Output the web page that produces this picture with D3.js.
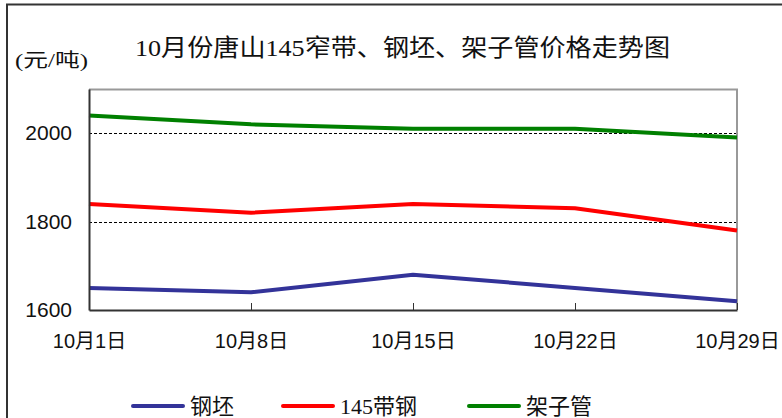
<!DOCTYPE html>
<html>
<head>
<meta charset="utf-8">
<script src="https://cdn.jsdelivr.net/npm/d3@7"></script>
<style>
  body { margin: 0; background: #fff; }
  svg { display: block; }
</style>
</head>
<body>
<div class="vis-linechart"></div>
<script>
// data
const dates = ["10月1日", "10月8日", "10月15日", "10月22日", "10月29日"];
const billet = [1650, 1640, 1680, 1650, 1620];      // 钢坯
const strip = [1840, 1820, 1840, 1830, 1780];       // 145带钢
const scaffold = [2040, 2020, 2010, 2010, 1990];    // 架子管
const yTicks = [1600, 1800, 2000];
const gridTicks = [1800, 2000];

const series = [
  { name: "钢坯", values: billet, color: "#333399" },
  { name: "145带钢", values: strip, color: "#ff0000" },
  { name: "架子管", values: scaffold, color: "#008000" }
];

const chartWidth = 782;
const chartHeight = 418;
const margin = { top: 89, right: 45, bottom: 108, left: 89 };
const width = chartWidth - margin.left - margin.right;
const height = chartHeight - margin.top - margin.bottom;

const cjkSerif = "'Liberation Serif', 'Noto Sans CJK SC', serif";
const cjkSans = "'Liberation Sans', Arial, 'Noto Sans CJK SC', sans-serif";

const root = d3.select(".vis-linechart").append("svg")
  .attr("width", chartWidth)
  .attr("height", chartHeight);

// outer frame (only top and left edges are visible)
root.append("path")
  .attr("d", "M7,420 L7,4.5 L790,4.5")
  .attr("fill", "none")
  .attr("stroke", "#333")
  .attr("stroke-width", 2);

// title
root.append("text")
  .attr("x", 135)
  .attr("y", 56)
  .attr("textLength", 535)
  .attr("lengthAdjust", "spacingAndGlyphs")
  .style("font-family", cjkSerif)
  .style("font-size", "24px")
  .attr("fill", "#111")
  .text("10月份唐山145窄带、钢坯、架子管价格走势图");

// unit
root.append("text")
  .attr("x", 15)
  .attr("y", 67)
  .attr("textLength", 73)
  .attr("lengthAdjust", "spacingAndGlyphs")
  .style("font-family", cjkSerif)
  .style("font-size", "19px")
  .attr("fill", "#111")
  .text("(元/吨)");

const svg = root.append("g")
  .attr("transform", "translate(" + margin.left + "," + margin.top + ")");

let x = d3.scalePoint()
  .domain(dates)
  .range([0, width]);
let y = d3.scaleLinear()
  .domain([1600, 2100])
  .range([height, 0]);

// dashed gridlines
svg.selectAll(".grid")
  .data(gridTicks)
  .enter().append("line")
  .attr("x1", 0)
  .attr("x2", width)
  .attr("y1", function(d) { return Math.round(y(d)) + 0.5; })
  .attr("y2", function(d) { return Math.round(y(d)) + 0.5; })
  .attr("stroke", "#000")
  .attr("stroke-width", 1)
  .attr("stroke-dasharray", "3,2");

// top + right border of plot area
svg.append("path")
  .attr("d", "M0,0.5 L" + width + ",0.5 L" + width + "," + height)
  .attr("fill", "none")
  .attr("stroke", "#999")
  .attr("stroke-width", 2);

// lines
const line = d3.line()
  .x(function(d, i) { return x(dates[i]); })
  .y(function(d) { return y(d); });

svg.selectAll(".series")
  .data(series)
  .enter().append("path")
  .attr("d", function(d) { return line(d.values); })
  .attr("fill", "none")
  .attr("stroke", function(d) { return d.color; })
  .attr("stroke-width", 4)
  .attr("stroke-linejoin", "round");

// x axis with inward ticks
const xAxis = svg.append("g")
  .attr("transform", "translate(0," + height + ")")
  .call(d3.axisBottom(x).tickSize(-7).tickSizeOuter(0).tickPadding(24));
xAxis.select(".domain").attr("stroke", "#333").attr("stroke-width", 2);
xAxis.selectAll(".tick line").attr("stroke", "#333");
xAxis.selectAll(".tick text")
  .attr("y", 24)
  .attr("dy", "0.71em")
  .attr("font-size", 20)
  .style("font-family", cjkSans)
  .attr("fill", "#111");

// y axis
const yAxis = svg.append("g")
  .call(d3.axisLeft(y).tickValues(yTicks).tickFormat(d3.format("d")).tickSize(0).tickPadding(17));
yAxis.select(".domain").attr("stroke", "#333").attr("stroke-width", 2);
yAxis.selectAll(".tick text")
  .attr("font-size", 21)
  .style("font-family", cjkSans)
  .attr("fill", "#111");

// legend
const legendX = [133, 283, 469];
const legend = root.selectAll(".legend")
  .data(series)
  .enter().append("g")
  .attr("transform", function(d, i) { return "translate(" + legendX[i] + ",406)"; });
legend.append("line")
  .attr("x1", 0).attr("x2", 50)
  .attr("stroke", function(d) { return d.color; })
  .attr("stroke-width", 4)
  .attr("stroke-linecap", "round");
legend.append("text")
  .attr("x", 57)
  .attr("y", 8)
  .style("font-family", cjkSerif)
  .style("font-size", "22px")
  .attr("fill", "#111")
  .text(function(d) { return d.name; });
</script>
</body>
</html>
